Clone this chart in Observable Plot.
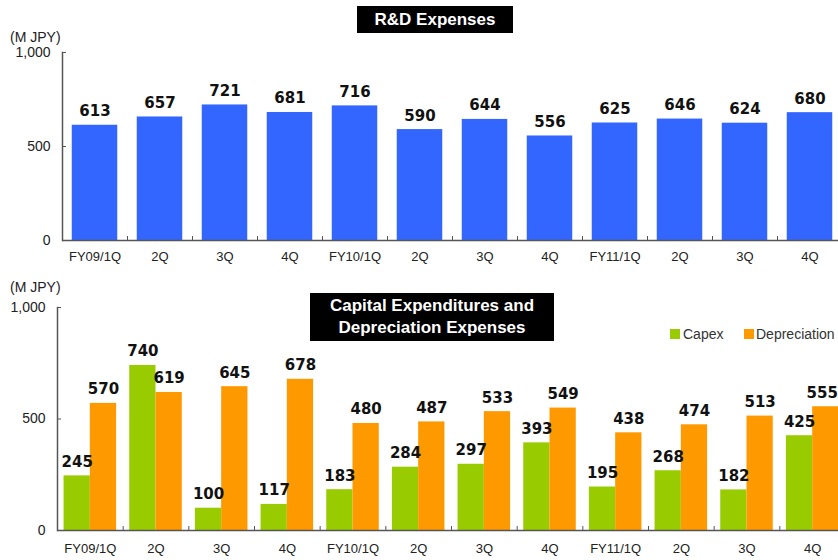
<!DOCTYPE html>
<html><head><meta charset="utf-8">
<script src="https://cdn.jsdelivr.net/npm/d3@7"></script>
<script src="https://cdn.jsdelivr.net/npm/@observablehq/plot@0.6"></script>
<style>
body{margin:0;background:#fff;}
#wrap{position:relative;width:838px;height:560px;overflow:hidden;font-family:"Liberation Sans",Arial,sans-serif;}
.panel{position:absolute;left:0;}
.title{position:absolute;background:#000;color:#fff;font-weight:bold;font-size:17px;text-align:center;}
.unit{position:absolute;font-size:14px;line-height:16px;color:#222;}
.leg{position:absolute;font-size:14px;line-height:16px;color:#333;}
.sw{position:absolute;width:10px;height:10px;}
</style></head>
<body>
<div id="wrap">
  <div id="top" class="panel" style="top:0"></div>
  <div id="bottom" class="panel" style="top:270px"></div>
  <div class="title" style="left:357px;top:6px;width:156px;height:27px;line-height:27px;">R&amp;D Expenses</div>
  <div class="title" style="left:310px;top:293px;width:244px;height:48px;line-height:22px;padding-top:2px;box-sizing:border-box;">Capital Expenditures and<br>Depreciation Expenses</div>
  <div class="unit" style="left:10px;top:29px;">(M JPY)</div>
  <div class="unit" style="left:10px;top:279px;">(M JPY)</div>
  <div class="sw" style="left:670px;top:329px;background:#99cc00"></div>
  <div class="leg" style="left:683px;top:326px;">Capex</div>
  <div class="sw" style="left:744px;top:329px;background:#ff9900"></div>
  <div class="leg" style="left:756px;top:326px;">Depreciation</div>
</div>
<script>
const periods = ["FY09/1Q","FY09/2Q","FY09/3Q","FY09/4Q","FY10/1Q","FY10/2Q","FY10/3Q","FY10/4Q","FY11/1Q","FY11/2Q","FY11/3Q","FY11/4Q"];
const tickLabels = ["FY09/1Q","2Q","3Q","4Q","FY10/1Q","2Q","3Q","4Q","FY11/1Q","2Q","3Q","4Q"];
const rdExpenses = [613,657,721,681,716,590,644,556,625,646,624,680];
const capex = [245,740,100,117,183,284,297,393,195,268,182,425];
const depreciation = [570,619,645,678,480,487,533,549,438,474,513,555];
const yTicks = [0,500,1000];

const axisColor = "#555";
const valueFont = "DejaVu Sans";
const W = 838;

// ---- top panel
{
  const mL = 62, mR = -4, mT = 52, mB = 30, H = 270;
  const frameW = W - mL - mR, frameH = H - mT - mB;
  const step = frameW / periods.length;
  const rows = periods.map((p, i) => ({period: p, value: rdExpenses[i]}));
  const chart = Plot.plot({
    width: W, height: H, marginLeft: mL, marginRight: mR, marginTop: mT, marginBottom: mB,
    style: {fontFamily: "Liberation Sans, Arial, sans-serif", color: "#222", background: "transparent", overflow: "visible"},
    x: {domain: periods, paddingInner: 0.3, paddingOuter: 0.15, round: false},
    y: {domain: [0, 1000]},
    marks: [
      Plot.barY(rows, {x: "period", y: "value", fill: "#3366ff"}),
      Plot.text(rows, {x: "period", y: "value", text: d => String(d.value), dy: -9, lineAnchor: "bottom",
        fontWeight: "bold", fontSize: 15, fontFamily: valueFont, fill: "#111"}),
      Plot.frame({anchor: "left", stroke: axisColor, strokeWidth: 1.5}),
      Plot.ruleY([0], {stroke: axisColor, strokeWidth: 1.5}),
      Plot.tickY(yTicks.slice(1), {y: d => d, stroke: axisColor, insetRight: frameW - 4}),
      Plot.ruleX(periods.slice(1), {x: d => d, dx: -step / 2, insetTop: frameH - 4, stroke: axisColor}),
      Plot.axisX({tickSize: 0, tickPadding: 11, fontSize: 13, fill: "#222", label: null, tickFormat: (d, i) => tickLabels[i]}),
      Plot.axisY({ticks: yTicks, tickSize: 0, tickPadding: 12, fontSize: 14, label: null, tickFormat: d3.format(",")})
    ]
  });
  document.getElementById("top").append(chart);
}

// ---- bottom panel
{
  const mL = 57, mR = -7, mT = 37, mB = 30, H = 290;
  const frameW = W - mL - mR, frameH = H - mT - mB;
  const step = frameW / periods.length;
  const pad = 0.2;
  const bw = step * (1 - pad);
  const rows = periods.map((p, i) => ({period: p, capex: capex[i], dep: depreciation[i]}));
  const last = rows.length - 1;
  const txt = {lineAnchor: "bottom", dy: -9, fontWeight: "bold", fontSize: 15, fontFamily: valueFont, fill: "#111"};
  const chart = Plot.plot({
    width: W, height: H, marginLeft: mL, marginRight: mR, marginTop: mT, marginBottom: mB,
    style: {fontFamily: "Liberation Sans, Arial, sans-serif", color: "#222", background: "transparent", overflow: "visible"},
    x: {domain: periods, paddingInner: pad, paddingOuter: pad / 2, round: false},
    y: {domain: [0, 1000]},
    marks: [
      Plot.barY(rows, {x: "period", y: "capex", fill: "#99cc00", insetRight: bw / 2}),
      Plot.barY(rows, {x: "period", y: "dep", fill: "#ff9900", insetLeft: bw / 2}),
      Plot.text(rows, {x: "period", y: "capex", text: d => String(d.capex), dx: -bw / 4, ...txt}),
      Plot.text(rows.slice(0, last), {x: "period", y: "dep", text: d => String(d.dep), dx: bw / 4, ...txt}),
      Plot.text(rows.slice(last), {x: "period", y: "dep", text: d => String(d.dep), dx: bw / 2 - 1, textAnchor: "end", ...txt}),
      Plot.frame({anchor: "left", stroke: axisColor, strokeWidth: 1.5}),
      Plot.ruleY([0], {stroke: axisColor, strokeWidth: 1.5}),
      Plot.tickY(yTicks.slice(1), {y: d => d, stroke: axisColor, insetRight: frameW - 4}),
      Plot.ruleX(periods.slice(1), {x: d => d, dx: -step / 2, insetTop: frameH - 4, stroke: axisColor}),
      Plot.axisX({tickSize: 0, tickPadding: 13, fontSize: 13, fill: "#222", label: null, tickFormat: (d, i) => tickLabels[i]}),
      Plot.axisY({ticks: yTicks, tickSize: 0, tickPadding: 12, fontSize: 14, label: null, tickFormat: d3.format(",")})
    ]
  });
  document.getElementById("bottom").append(chart);
}
</script>
</body></html>
